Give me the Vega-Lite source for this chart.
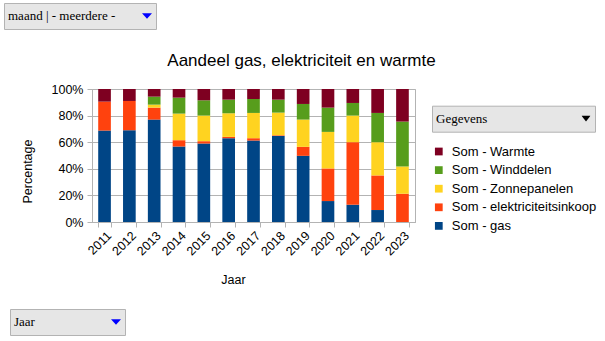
{
  "$schema": "https://vega.github.io/schema/vega-lite/v6.json",
  "width": 323,
  "height": 133,
  "autosize": {"type": "none"},
  "padding": {"left": 92, "top": 89, "right": 190, "bottom": 119},
  "background": "white",
  "title": {"text": "Aandeel gas, elektriciteit en warmte", "font": "Liberation Sans", "fontSize": 17, "fontWeight": "normal", "color": "#000000", "anchor": "middle", "frame": "group", "dx": 48, "baseline": "alphabetic", "offset": -80},
  "config": {"view": {"stroke": "#b3b3b3", "strokeWidth": 1}},
  "layer": [
    {
      "data": {"values": [
        {"jaar": "2011", "bron": "Som - gas", "waarde": 68.75},
        {"jaar": "2011", "bron": "Som - elektriciteitsinkoop", "waarde": 21.75},
        {"jaar": "2011", "bron": "Som - Warmte", "waarde": 9.5},
        {"jaar": "2012", "bron": "Som - gas", "waarde": 69},
        {"jaar": "2012", "bron": "Som - elektriciteitsinkoop", "waarde": 22},
        {"jaar": "2012", "bron": "Som - Warmte", "waarde": 9},
        {"jaar": "2013", "bron": "Som - gas", "waarde": 77},
        {"jaar": "2013", "bron": "Som - elektriciteitsinkoop", "waarde": 9},
        {"jaar": "2013", "bron": "Som - Zonnepanelen", "waarde": 2.25},
        {"jaar": "2013", "bron": "Som - Winddelen", "waarde": 6},
        {"jaar": "2013", "bron": "Som - Warmte", "waarde": 5.75},
        {"jaar": "2014", "bron": "Som - gas", "waarde": 56.75},
        {"jaar": "2014", "bron": "Som - elektriciteitsinkoop", "waarde": 4.75},
        {"jaar": "2014", "bron": "Som - Zonnepanelen", "waarde": 20},
        {"jaar": "2014", "bron": "Som - Winddelen", "waarde": 12},
        {"jaar": "2014", "bron": "Som - Warmte", "waarde": 6.5},
        {"jaar": "2015", "bron": "Som - gas", "waarde": 59},
        {"jaar": "2015", "bron": "Som - elektriciteitsinkoop", "waarde": 1.75},
        {"jaar": "2015", "bron": "Som - Zonnepanelen", "waarde": 19.25},
        {"jaar": "2015", "bron": "Som - Winddelen", "waarde": 11.5},
        {"jaar": "2015", "bron": "Som - Warmte", "waarde": 8.5},
        {"jaar": "2016", "bron": "Som - gas", "waarde": 63},
        {"jaar": "2016", "bron": "Som - elektriciteitsinkoop", "waarde": 1},
        {"jaar": "2016", "bron": "Som - Zonnepanelen", "waarde": 17.75},
        {"jaar": "2016", "bron": "Som - Winddelen", "waarde": 10.25},
        {"jaar": "2016", "bron": "Som - Warmte", "waarde": 8},
        {"jaar": "2017", "bron": "Som - gas", "waarde": 61.25},
        {"jaar": "2017", "bron": "Som - elektriciteitsinkoop", "waarde": 1.75},
        {"jaar": "2017", "bron": "Som - Zonnepanelen", "waarde": 19},
        {"jaar": "2017", "bron": "Som - Winddelen", "waarde": 10.5},
        {"jaar": "2017", "bron": "Som - Warmte", "waarde": 7.5},
        {"jaar": "2018", "bron": "Som - gas", "waarde": 64.75},
        {"jaar": "2018", "bron": "Som - elektriciteitsinkoop", "waarde": 0.5},
        {"jaar": "2018", "bron": "Som - Zonnepanelen", "waarde": 17},
        {"jaar": "2018", "bron": "Som - Winddelen", "waarde": 9.75},
        {"jaar": "2018", "bron": "Som - Warmte", "waarde": 8},
        {"jaar": "2019", "bron": "Som - gas", "waarde": 49.75},
        {"jaar": "2019", "bron": "Som - elektriciteitsinkoop", "waarde": 6.75},
        {"jaar": "2019", "bron": "Som - Zonnepanelen", "waarde": 20.5},
        {"jaar": "2019", "bron": "Som - Winddelen", "waarde": 11.75},
        {"jaar": "2019", "bron": "Som - Warmte", "waarde": 11.25},
        {"jaar": "2020", "bron": "Som - gas", "waarde": 15.75},
        {"jaar": "2020", "bron": "Som - elektriciteitsinkoop", "waarde": 24.5},
        {"jaar": "2020", "bron": "Som - Zonnepanelen", "waarde": 27.5},
        {"jaar": "2020", "bron": "Som - Winddelen", "waarde": 18.25},
        {"jaar": "2020", "bron": "Som - Warmte", "waarde": 14},
        {"jaar": "2021", "bron": "Som - gas", "waarde": 13},
        {"jaar": "2021", "bron": "Som - elektriciteitsinkoop", "waarde": 47},
        {"jaar": "2021", "bron": "Som - Zonnepanelen", "waarde": 20},
        {"jaar": "2021", "bron": "Som - Winddelen", "waarde": 9.5},
        {"jaar": "2021", "bron": "Som - Warmte", "waarde": 10.5},
        {"jaar": "2022", "bron": "Som - gas", "waarde": 9},
        {"jaar": "2022", "bron": "Som - elektriciteitsinkoop", "waarde": 26},
        {"jaar": "2022", "bron": "Som - Zonnepanelen", "waarde": 25},
        {"jaar": "2022", "bron": "Som - Winddelen", "waarde": 22},
        {"jaar": "2022", "bron": "Som - Warmte", "waarde": 18},
        {"jaar": "2023", "bron": "Som - elektriciteitsinkoop", "waarde": 21.25},
        {"jaar": "2023", "bron": "Som - Zonnepanelen", "waarde": 20.5},
        {"jaar": "2023", "bron": "Som - Winddelen", "waarde": 33.75},
        {"jaar": "2023", "bron": "Som - Warmte", "waarde": 24.5}
      ]},
      "mark": {"type": "bar"},
      "encoding": {
        "x": {
          "field": "jaar", "type": "ordinal",
          "scale": {"paddingInner": 0.49, "paddingOuter": 0.25},
          "axis": {"title": "Jaar", "labelAngle": -45, "tickBand": "extent", "tickSize": 5, "tickColor": "#b3b3b3", "domainColor": "#b3b3b3", "grid": false,
                   "labelFont": "Liberation Sans", "labelFontSize": 12.5, "labelColor": "#000000", "labelPadding": 2,
                   "titleFont": "Liberation Sans", "titleFontSize": 12.5, "titleFontWeight": "normal", "titleColor": "#000000",
                   "titleX": 141, "titleY": 61, "titleBaseline": "alphabetic", "titleAlign": "center"}
        },
        "y": {
          "field": "waarde", "type": "quantitative", "stack": "normalize",
          "axis": {"title": "Percentage", "values": [0, 0.2, 0.4, 0.6, 0.8, 1], "format": ".0%", "grid": true, "gridColor": "#b3b3b3", "tickSize": 5, "tickColor": "#b3b3b3", "domainColor": "#b3b3b3",
                   "labelFont": "Liberation Sans", "labelFontSize": 12.5, "labelColor": "#000000", "labelPadding": 4,
                   "titleFont": "Liberation Sans", "titleFontSize": 12.5, "titleFontWeight": "normal", "titleColor": "#000000",
                   "titleX": -61, "titleY": 82, "titleBaseline": "alphabetic", "titleAlign": "center", "titleAngle": -90}
        },
        "color": {
          "field": "bron", "type": "nominal",
          "sort": ["Som - Warmte", "Som - Winddelen", "Som - Zonnepanelen", "Som - elektriciteitsinkoop", "Som - gas"],
          "scale": {"domain": ["Som - Warmte", "Som - Winddelen", "Som - Zonnepanelen", "Som - elektriciteitsinkoop", "Som - gas"],
                    "range": ["#7e0021", "#579d1c", "#ffd320", "#ff420e", "#004586"]},
          "legend": {"title": null, "orient": "none", "legendX": 340.3, "legendY": 56, "symbolType": "square", "symbolSize": 60, "symbolStrokeWidth": 0,
                     "labelFont": "Liberation Sans", "labelFontSize": 13, "labelColor": "#000000", "labelOffset": 6.5, "rowPadding": 4.6, "padding": 0}
        }
      }
    },
    {
      "data": {"values": [{"w": "maand"}]},
      "transform": [{"filter": "false"}],
      "mark": {"type": "point", "filled": true, "color": "#0000ff", "opacity": 1},
      "encoding": {
        "shape": {"field": "w", "type": "nominal",
          "scale": {"domain": ["maand"], "range": ["M-1,-0.57L1,-0.57L0,0.57Z"]},
          "legend": {"title": "maand | - meerdere -", "titleOrient": "left", "titleFont": "Liberation Serif", "titleFontSize": 13, "titleFontWeight": "normal", "titleColor": "#000000", "titlePadding": 26,
                     "labelExpr": "''", "labelOffset": 0, "labelFontSize": 1, "symbolSize": 100, "symbolStrokeWidth": 0, "symbolFillColor": "#0000ff", "symbolOpacity": 1,
                     "clipHeight": 18, "padding": 4, "fillColor": "#e6e6e6", "strokeColor": "#b3b3b3", "orient": "none", "legendX": -88, "legendY": -86}}
      }
    },
    {
      "data": {"values": [{"g": "Gegevens"}]},
      "transform": [{"filter": "false"}],
      "mark": {"type": "point", "filled": true, "color": "#000000", "opacity": 1},
      "encoding": {
        "shape": {"field": "g", "type": "nominal",
          "scale": {"domain": ["Gegevens"], "range": ["M-1,-0.63L1,-0.63L0,0.63Z"]},
          "legend": {"title": "Gegevens", "titleOrient": "left", "titleFont": "Liberation Serif", "titleFontSize": 13, "titleFontWeight": "normal", "titleColor": "#000000", "titlePadding": 93.5,
                     "labelExpr": "''", "labelOffset": 0, "labelFontSize": 1, "symbolSize": 81, "symbolStrokeWidth": 0, "symbolFillColor": "#000000", "symbolOpacity": 1,
                     "clipHeight": 18, "padding": 4, "fillColor": "#e6e6e6", "strokeColor": "#b3b3b3", "orient": "none", "legendX": 340, "legendY": 16.7}}
      }
    },
    {
      "data": {"values": [{"j": "Jaar"}]},
      "transform": [{"filter": "false"}],
      "mark": {"type": "point", "filled": true, "color": "#0000ff", "opacity": 1},
      "encoding": {
        "shape": {"field": "j", "type": "nominal",
          "scale": {"domain": ["Jaar"], "range": ["M-1,-0.57L1,-0.57L0,0.57Z"]},
          "legend": {"title": "Jaar", "titleOrient": "left", "titleFont": "Liberation Serif", "titleFontSize": 13, "titleFontWeight": "normal", "titleColor": "#000000", "titlePadding": 76,
                     "labelExpr": "''", "labelOffset": 0, "labelFontSize": 1, "symbolSize": 100, "symbolStrokeWidth": 0, "symbolFillColor": "#0000ff", "symbolOpacity": 1,
                     "clipHeight": 18, "padding": 4, "fillColor": "#e6e6e6", "strokeColor": "#b3b3b3", "orient": "none", "legendX": -82, "legendY": 220}}
      }
    }
  ],
  "resolve": {"scale": {"shape": "independent"}, "legend": {"shape": "independent"}}
}
